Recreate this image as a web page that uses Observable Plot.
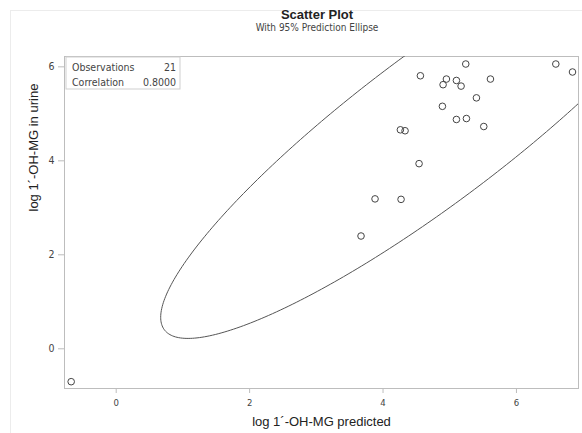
<!DOCTYPE html>
<html>
<head>
<meta charset="utf-8">
<script src="https://cdn.jsdelivr.net/npm/d3@7"></script>
<script src="https://cdn.jsdelivr.net/npm/@observablehq/plot@0.6"></script>
<style>
  body { margin: 0; background: #fff; }
  #wrap { position: relative; width: 582px; height: 433px; overflow: hidden; font-family: "Liberation Sans", Arial, sans-serif; }
  #border { position: absolute; left: 10px; top: 10px; width: 600px; height: 600px; border-top: 1px solid #ececec; border-left: 1px solid #ececec; }
  #title { position: absolute; left: 52px; width: 530px; top: 7px; line-height: 16px; text-align: center; font-size: 13px; font-weight: bold; color: #222; }
  #subtitle { position: absolute; left: 52px; width: 530px; top: 22px; line-height: 12px; text-align: center; font-size: 10px; color: #444; font-family: "Liberation Sans Narrow", "DejaVu Sans Condensed", sans-serif; }
  #chart { position: absolute; left: 0; top: 38px; }
</style>
</head>
<body>
<div id="wrap">
  <div id="border"></div>
  <div id="title">Scatter Plot</div>
  <div id="subtitle">With 95% Prediction Ellipse</div>
  <div id="chart"></div>
</div>
<script>
// Data
const predicted = [-0.675, 3.67, 3.88, 4.27, 4.54, 4.26, 4.33, 4.56, 4.89, 4.90, 4.95,
                   5.10, 5.17, 5.10, 5.25, 5.24, 5.40, 5.51, 5.61, 6.59, 6.84];
const urine     = [-0.70, 2.40, 3.19, 3.18, 3.94, 4.66, 4.64, 5.81, 5.16, 5.62, 5.74,
                   5.71, 5.59, 4.88, 4.90, 6.06, 5.34, 4.73, 5.74, 6.06, 5.89];
const xTicks = [0, 2, 4, 6];
const yTicks = [0, 2, 4, 6];
const xLabel = "log 1´-OH-MG predicted";
const yLabel = "log 1´-OH-MG in urine";
const statLabels = ["Observations", "Correlation"];
const statValues = ["21", "0.8000"];
const fQuantile = 3.5219; // F(0.95; 2, 19) for the 95% prediction ellipse

const data = predicted.map((x, i) => ({x, y: urine[i]}));

// 95% prediction ellipse from the sample mean and covariance
const n = data.length;
const mx = d3.mean(predicted), my = d3.mean(urine);
let sxx = 0, syy = 0, sxy = 0;
for (const d of data) { sxx += (d.x - mx) ** 2; syy += (d.y - my) ** 2; sxy += (d.x - mx) * (d.y - my); }
sxx /= n - 1; syy /= n - 1; sxy /= n - 1;
const c = 2 * (n - 1) * (n + 1) / (n * (n - 2)) * fQuantile;
const l11 = Math.sqrt(sxx), l21 = sxy / l11, l22 = Math.sqrt(syy - l21 * l21);
const ellipse = d3.range(0, 361).map(k => {
  const t = k * Math.PI / 180;
  const u = Math.sqrt(c) * Math.cos(t), v = Math.sqrt(c) * Math.sin(t);
  return {x: mx + l11 * u, y: my + l21 * u + l22 * v};
});

const tickFont = "Liberation Sans Narrow, DejaVu Sans Condensed, sans-serif";

const plot = Plot.plot({
  width: 582,
  height: 395,
  marginLeft: 64,
  marginRight: 4,
  marginTop: 18,
  marginBottom: 45,
  x: {domain: [-0.775, 6.93]},
  y: {domain: [-0.845, 6.22]},
  style: {fontFamily: tickFont, fontSize: "9px", color: "#444", background: "transparent"},
  marks: [
    Plot.frame({stroke: "#bdbdbd"}),
    Plot.axisX({ticks: xTicks, tickFormat: d3.format("d"), tickSize: 5, tickPadding: 6, stroke: "#bdbdbd", label: null, fill: "#444", fontSize: 9.5}),
    Plot.axisY({ticks: yTicks, tickFormat: d3.format("d"), tickSize: 6, tickPadding: 4, stroke: "#bdbdbd", label: null, fill: "#444", fontSize: 10.5}),
    Plot.line(ellipse, {x: "x", y: "y", stroke: "#555", strokeWidth: 1, clip: true}),
    Plot.dot(data, {x: "x", y: "y", r: 3.3, stroke: "#444", strokeWidth: 1, fill: "none"}),
    Plot.text([xLabel], {frameAnchor: "bottom", text: d => d, dy: 37, fontSize: 13, fill: "#222", fontFamily: "Liberation Sans, Arial, sans-serif"}),
    Plot.text([yLabel], {frameAnchor: "left", text: d => d, rotate: -90, dx: -31, dy: -11, fontSize: 13, fill: "#222", fontFamily: "Liberation Sans, Arial, sans-serif"})
  ]
});
document.getElementById("chart").appendChild(plot);

// inset statistics table
const svg = d3.select(plot);
const g = svg.append("g").attr("font-family", tickFont).attr("font-size", 10.5).attr("fill", "#444");
g.append("rect").attr("x", 66).attr("y", 19).attr("width", 114).attr("height", 32)
  .attr("fill", "white").attr("stroke", "#cfcfcf");
statLabels.forEach((lab, i) => {
  const yy = 29 + i * 15.5;
  g.append("text").attr("x", 72).attr("y", yy).attr("dy", "0.35em").attr("text-anchor", "start").text(lab);
  g.append("text").attr("x", 176).attr("y", yy).attr("dy", "0.35em").attr("text-anchor", "end").text(statValues[i]);
});
</script>
</body>
</html>
